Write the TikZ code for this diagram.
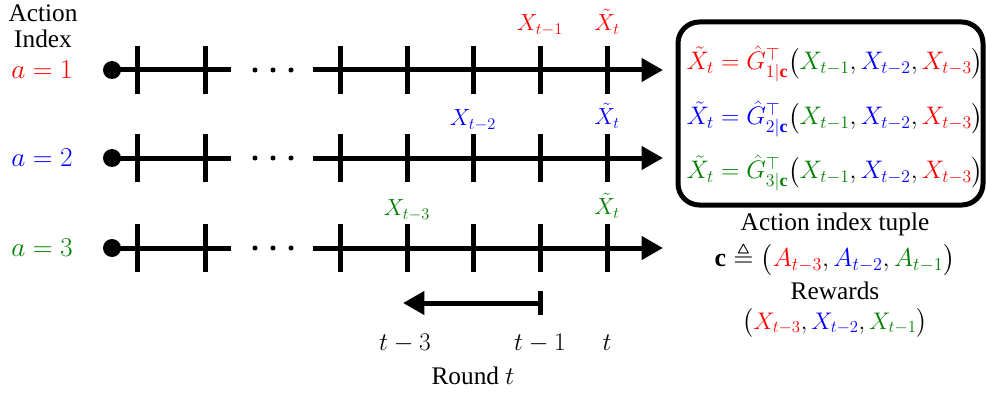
\RequirePackage{fix-cm}
\documentclass[tikz,border=0pt]{standalone}
\usepackage{amsmath,amssymb}
\usepackage{fontspec}
\setmainfont{Liberation Serif}
\usetikzlibrary{arrows.meta}
\definecolor{cr}{RGB}{255,0,0}
\definecolor{cb}{RGB}{0,0,255}
\definecolor{cg}{RGB}{0,128,0}
\begin{document}
\begin{tikzpicture}[x=0.75pt,y=-0.75pt,
  font=\fontsize{19}{23}\selectfont,
  line width=3.75pt,
  tip/.style={-{Triangle[length=16pt,width=17pt]}},
  lbl/.style={inner sep=0pt},
  mth/.style={inner sep=0pt,font=\fontsize{#1}{24}\selectfont},
  eq/.style={inner sep=0pt,anchor=west,font=\fontsize{19}{24}\selectfont}]
\useasboundingbox (0,0) rectangle (987,392);
% left labels
\node[lbl] (act) at (43,13) {Action};
\node[lbl] (idx) at (43,39) {Index};
\foreach \y/\c/\n in {70/cr/1,158/cb/2,248/cg/3}{
  \node[mth=20.5,text=\c] (a\n) at (42,\y) {$a=\n$};
  \coordinate (s\n) at (112,\y);
  \coordinate (m\n) at (231,\y);
  \coordinate (r\n) at (313,\y);
  \coordinate (e\n) at (663,\y);
  \fill (s\n) circle (6.75pt);
  \draw (s\n) -- (m\n);
  \draw[tip] (r\n) -- (e\n);
  \foreach \x in {137,205,340,407,473,540,607}
    \draw (\x,\y-24) -- (\x,\y+24);
  \foreach \x in {255,273,291}
    \fill (\x,\y) circle (1.9pt);
}
% labels above ticks
\node[mth=17.5,text=cr] (x1) at (540,25) {$X_{t-1}$};
\node[mth=17.5,text=cr] (xt1) at (607,22) {$\tilde X_t$};
\node[mth=17.5,text=cb] (x2) at (473,120) {$X_{t-2}$};
\node[mth=17.5,text=cb] (xt2) at (607,116) {$\tilde X_t$};
\node[mth=17.5,text=cg] (x3) at (407,210) {$X_{t-3}$};
\node[mth=17.5,text=cg] (xt3) at (607,206) {$\tilde X_t$};
% round arrow
\coordinate (rb) at (540,303);
\coordinate (rl) at (403,303);
\draw[tip] (rb) -- (rl);
\draw (540,291) -- (540,315);
\node[mth=19] (t3) at (405,343) {$t-3$};
\node[mth=19] (t1) at (540,343) {$t-1$};
\node[mth=19] (t0) at (607,343) {$t$};
\node[lbl] (rnd) at (473,376) {Round $t$};
% box
\node[draw,rounded corners=16pt,minimum width=228.75pt,minimum height=137.25pt,inner sep=0pt] (box) at (830.5,113.5) {};
\node[eq] (eq1) at (684,64) {${\color{cr}\tilde X_t = \hat G^{\top}_{1|\mathbf c}}\bigl({\color{cg}X_{t-1}}, {\color{cb}X_{t-2}}, {\color{cr}X_{t-3}}\bigr)$};
\node[eq] (eq2) at (684,119) {${\color{cb}\tilde X_t = \hat G^{\top}_{2|\mathbf c}}\bigl({\color{cg}X_{t-1}}, {\color{cb}X_{t-2}}, {\color{cr}X_{t-3}}\bigr)$};
\node[eq] (eq3) at (684,173) {${\color{cg}\tilde X_t = \hat G^{\top}_{3|\mathbf c}}\bigl({\color{cg}X_{t-1}}, {\color{cb}X_{t-2}}, {\color{cr}X_{t-3}}\bigr)$};
% below box
\node[lbl] (ait) at (835,224) {Action index tuple};
\node[mth=19.5] (ctup) at (835,259) {$\mathbf c \triangleq \bigl({\color{cr}A_{t-3}}, {\color{cb}A_{t-2}}, {\color{cg}A_{t-1}}\bigr)$};
\node[lbl] (rew) at (835,291) {Rewards};
\node[mth=18] (rtup) at (835,323) {$\bigl({\color{cr}X_{t-3}}, {\color{cb}X_{t-2}}, {\color{cg}X_{t-1}}\bigr)$};
\end{tikzpicture}
\end{document}
